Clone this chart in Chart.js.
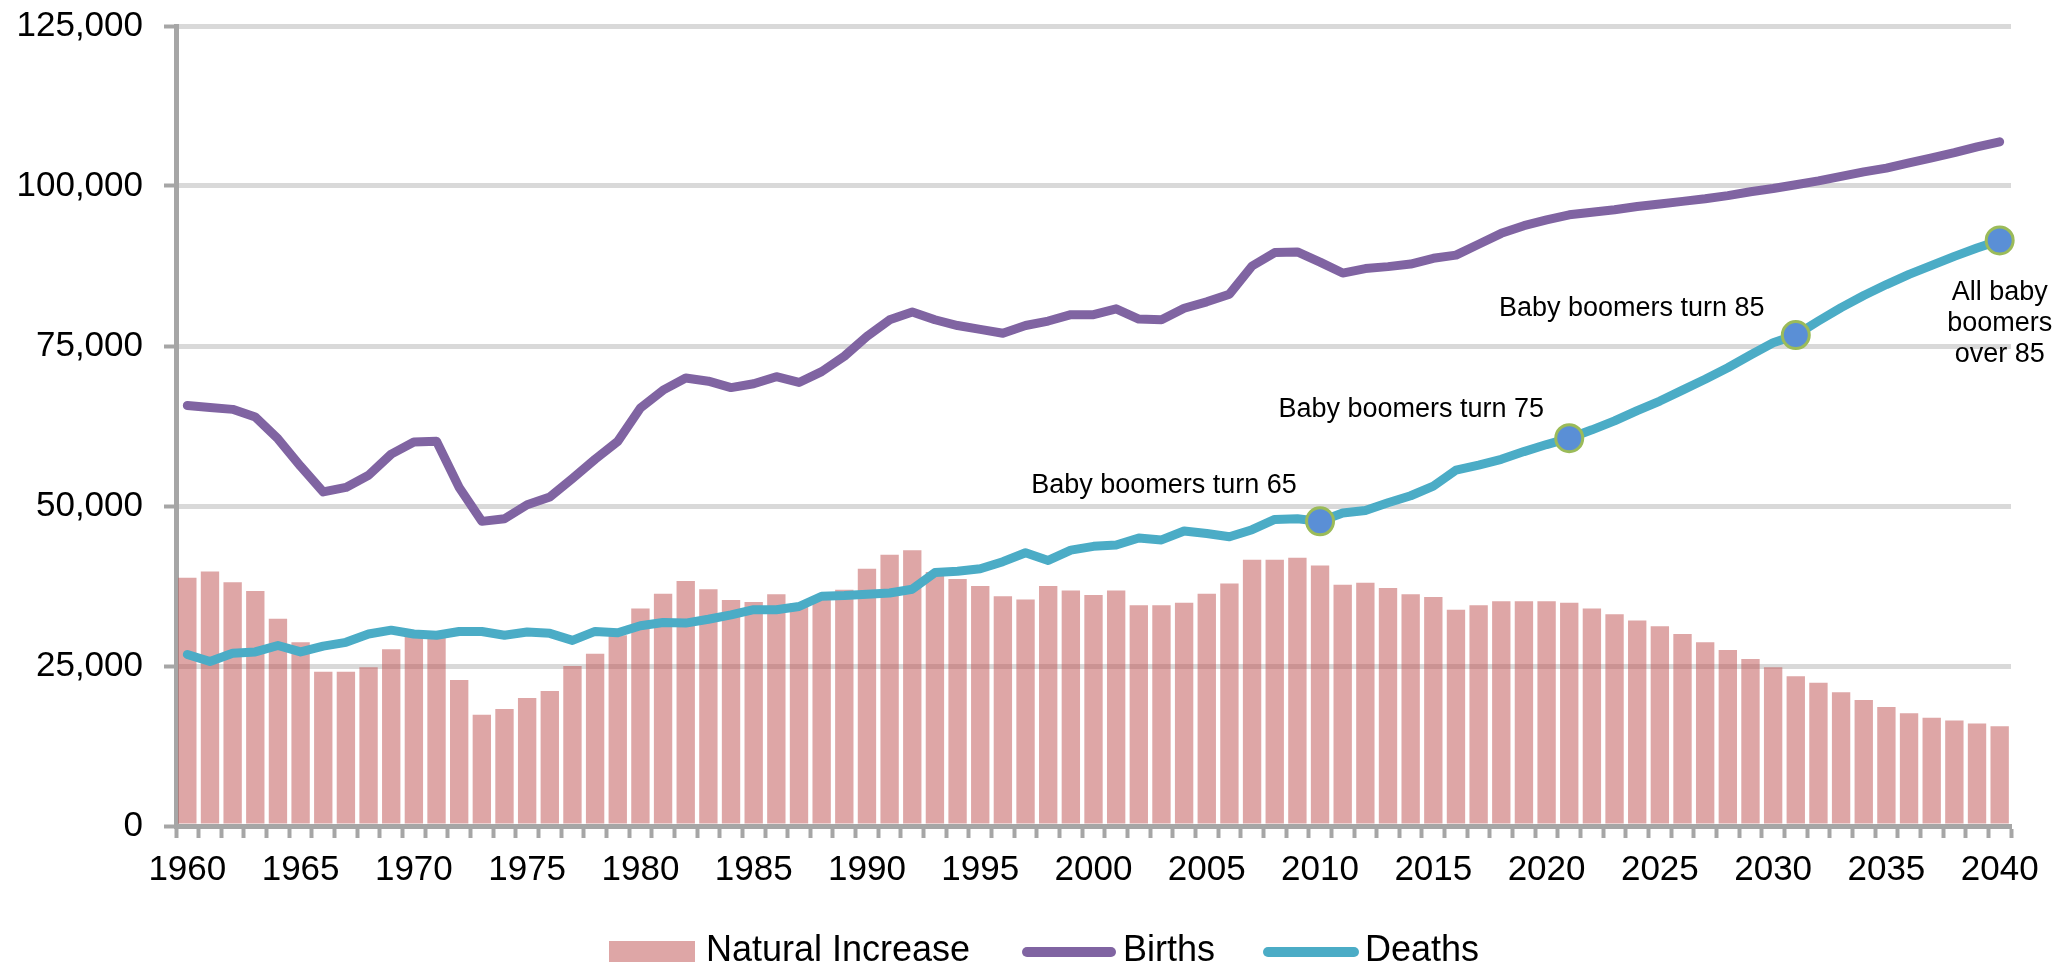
<!DOCTYPE html>
<html lang="en">
<head>
    <meta charset="UTF-8">
    <title>Births, Deaths and Natural Increase</title>
    <style>
        html, body {
            margin: 0;
            padding: 0;
            background-color: #ffffff;
        }
        #chartContainer {
            position: relative;
            width: 2065px;
            height: 970px;
        }
    </style>
</head>
<body>
    <div id="chartContainer">
        <canvas id="popChart"></canvas>
    </div>

    <script src="https://cdn.jsdelivr.net/npm/chart.js@4/dist/chart.umd.min.js"></script>
    <script>
        // Years on the x axis
        const years = [
            1960, 1961, 1962, 1963, 1964, 1965, 1966, 1967, 1968, 1969,
            1970, 1971, 1972, 1973, 1974, 1975, 1976, 1977, 1978, 1979,
            1980, 1981, 1982, 1983, 1984, 1985, 1986, 1987, 1988, 1989,
            1990, 1991, 1992, 1993, 1994, 1995, 1996, 1997, 1998, 1999,
            2000, 2001, 2002, 2003, 2004, 2005, 2006, 2007, 2008, 2009,
            2010, 2011, 2012, 2013, 2014, 2015, 2016, 2017, 2018, 2019,
            2020, 2021, 2022, 2023, 2024, 2025, 2026, 2027, 2028, 2029,
            2030, 2031, 2032, 2033, 2034, 2035, 2036, 2037, 2038, 2039,
            2040
        ];

        // Natural increase (bars)
        const naturalIncrease = [
            38800, 39750, 38100, 36700, 32400, 28700, 24100, 24100, 24800, 27600,
            29800, 29900, 22800, 17400, 18300, 20000, 21100, 25000, 26900, 29800,
            34000, 36300, 38300, 37000, 35300, 35000, 36200, 34800, 35700, 36900,
            40200, 42400, 43100, 39700, 38600, 37500, 35900, 35400, 37500, 36800,
            36100, 36800, 34500, 34500, 34900, 36300, 37900, 41600, 41600, 41900,
            40700, 37700, 38000, 37200, 36200, 35800, 33800, 34500, 35100, 35100,
            35100, 34900, 34000, 33100, 32100, 31200, 30000, 28700, 27500, 26100,
            24800, 23400, 22400, 20900, 19700, 18600, 17600, 16900, 16500, 16000,
            15600
        ];

        const births = [
            65700, 65400, 65100, 63900, 60500, 56200, 52200, 52900, 54800, 58100,
            60000, 60100, 52900, 47600, 48000, 50200, 51400, 54300, 57300, 60100,
            65300, 68100, 70000, 69500, 68500, 69100, 70200, 69300, 71000, 73400,
            76500, 79100, 80300, 79100, 78200, 77600, 77000, 78200, 78900, 79900,
            79900, 80800, 79200, 79100, 80900, 81900, 83100, 87500, 89600, 89700,
            88100, 86400, 87100, 87400, 87800, 88700, 89200, 90900, 92600, 93800,
            94700, 95500, 95900, 96300, 96800, 97200, 97600, 98000, 98500, 99100,
            99600, 100200, 100800, 101500, 102200, 102800, 103600, 104400, 105200, 106100,
            106900
        ];

        const deaths = [
            26800, 25700, 27000, 27200, 28200, 27200, 28100, 28700, 30000, 30600,
            30000, 29800, 30400, 30400, 29800, 30300, 30100, 29000, 30400, 30200,
            31300, 31800, 31700, 32300, 33000, 33800, 33800, 34300, 35900, 36000,
            36200, 36400, 37000, 39600, 39800, 40200, 41300, 42700, 41500, 43100,
            43700, 43900, 45000, 44700, 46100, 45700, 45200, 46300, 47900, 48000,
            47600, 48900, 49300, 50500, 51600, 53100, 55600, 56400, 57300, 58500,
            59600, 60600, 61900, 63300, 64900, 66400, 68100, 69800, 71600, 73600,
            75500, 76700, 78900, 81000, 82900, 84600, 86200, 87600, 89000, 90300,
            91500
        ];

        // Milestones marked on the deaths line
        const markerYears = [2010, 2021, 2031, 2040];
        const markerTexts = [
            ['Baby boomers turn 65'],
            ['Baby boomers turn 75'],
            ['Baby boomers turn 85'],
            ['All baby', 'boomers', 'over 85']
        ];

        const yTicks = [0, 25000, 50000, 75000, 100000, 125000];

        const FONT = "'Liberation Sans', Arial, sans-serif";
        const barColor = 'rgba(189, 77, 77, 0.5)';
        const barSwatch = '#dea6a6';
        const birthsColor = '#8064a2';
        const deathsColor = '#4bacc6';

        // where each milestone label sits relative to its marker
        const labelOffsets = [
            { dx: -156, dy: -36 },
            { dx: -158, dy: -29 },
            { dx: -164, dy: -27 },
            { dx: 0, dy: 52 }
        ];

        const annotationPlugin = {
            id: 'milestones',
            afterDatasetsDraw(chart) {
                const ctx = chart.ctx;
                const x = chart.scales.x;
                const y = chart.scales.y;
                ctx.save();
                ctx.fillStyle = '#000000';
                ctx.font = '27px ' + FONT;
                ctx.textAlign = 'center';
                ctx.textBaseline = 'middle';
                markerYears.forEach((yr, i) => {
                    const idx = years.indexOf(yr);
                    const px = x.getPixelForValue(idx) + labelOffsets[i].dx;
                    const py = y.getPixelForValue(deaths[idx]) + labelOffsets[i].dy;
                    markerTexts[i].forEach((line, j) => {
                        ctx.fillText(line, px, py + j * 31);
                    });
                });
                ctx.restore();
            }
        };

        // legend drawn by hand so the spacing matches
        const legendPlugin = {
            id: 'bottomLegend',
            afterDraw(chart) {
                const ctx = chart.ctx;
                const cy = 951;
                ctx.save();
                ctx.font = '36px ' + FONT;
                ctx.fillStyle = '#000000';
                ctx.textBaseline = 'middle';
                ctx.textAlign = 'left';

                ctx.fillStyle = barSwatch;
                ctx.fillRect(609, cy - 10, 86, 21);
                ctx.fillStyle = '#000000';
                ctx.fillText(chart.data.datasets[0].label, 706, cy);

                ctx.lineCap = 'round';
                ctx.lineWidth = 10;
                ctx.strokeStyle = birthsColor;
                ctx.beginPath();
                ctx.moveTo(1027, cy + 1);
                ctx.lineTo(1111, cy + 1);
                ctx.stroke();
                ctx.fillText(chart.data.datasets[1].label, 1123, cy);

                ctx.strokeStyle = deathsColor;
                ctx.beginPath();
                ctx.moveTo(1268, cy + 1);
                ctx.lineTo(1354, cy + 1);
                ctx.stroke();
                ctx.fillText(chart.data.datasets[2].label, 1365, cy);
                ctx.restore();
            }
        };

        const isMarker = (c) => markerYears.includes(years[c.dataIndex]);

        const ctx = document.getElementById('popChart').getContext('2d');
        const chart = new Chart(ctx, {
            type: 'bar',
            data: {
                labels: years,
                datasets: [
                    {
                        type: 'bar',
                        label: 'Natural Increase',
                        data: naturalIncrease,
                        backgroundColor: barColor,
                        borderWidth: 0,
                        barPercentage: 0.81,
                        categoryPercentage: 1.0,
                        order: 3
                    },
                    {
                        type: 'line',
                        label: 'Births',
                        data: births,
                        borderColor: birthsColor,
                        borderWidth: 9,
                        borderCapStyle: 'round',
                        borderJoinStyle: 'round',
                        pointRadius: 0,
                        tension: 0,
                        fill: false,
                        order: 1
                    },
                    {
                        type: 'line',
                        label: 'Deaths',
                        data: deaths,
                        borderColor: deathsColor,
                        borderWidth: 9,
                        borderCapStyle: 'round',
                        borderJoinStyle: 'round',
                        pointRadius: (c) => isMarker(c) ? 13.5 : 0,
                        pointBackgroundColor: '#5a8fd6',
                        pointBorderColor: '#9bbb59',
                        pointBorderWidth: 3,
                        tension: 0,
                        fill: false,
                        order: 2
                    }
                ]
            },
            options: {
                responsive: true,
                maintainAspectRatio: false,
                animation: false,
                layout: {
                    padding: { left: 16, right: 54, top: 26, bottom: 81 }
                },
                plugins: {
                    legend: { display: false },
                    tooltip: { enabled: false }
                },
                scales: {
                    x: {
                        afterFit: (scale) => {
                            // keep the plot box where the original has it
                            scale.paddingLeft = 0;
                            scale.paddingRight = 0;
                            scale.height = 63;
                        },
                        grid: {
                            display: true,
                            drawOnChartArea: false,
                            drawTicks: true,
                            tickLength: 12,
                            tickColor: '#a6a6a6',
                            tickWidth: 4,
                            offset: true
                        },
                        border: { color: '#a6a6a6', width: 5 },
                        ticks: {
                            autoSkip: false,
                            maxRotation: 0,
                            minRotation: 0,
                            padding: 11,
                            color: '#000000',
                            font: { family: FONT, size: 35 },
                            callback: function (value, index) {
                                const yr = years[index];
                                return yr % 5 === 0 ? String(yr) : '';
                            }
                        }
                    },
                    y: {
                        min: 0,
                        max: 125000,
                        afterBuildTicks: (axis) => {
                            axis.ticks = yTicks.map(v => ({ value: v }));
                        },
                        afterFit: (scale) => {
                            scale.paddingTop = 0;
                            scale.paddingBottom = 0;
                            scale.width = 160;
                        },
                        grid: {
                            color: (c) => c.tick && c.tick.value === 0 ? 'rgba(0,0,0,0)' : '#d9d9d9',
                            lineWidth: 5,
                            tickLength: 12,
                            tickColor: '#a6a6a6',
                            tickWidth: 4
                        },
                        border: { color: '#a6a6a6', width: 5 },
                        ticks: {
                            padding: 21,
                            color: '#000000',
                            font: { family: FONT, size: 35 },
                            callback: (v) => v.toLocaleString('en-US')
                        }
                    }
                }
            },
            plugins: [annotationPlugin, legendPlugin]
        });
    </script>
</body>
</html>
